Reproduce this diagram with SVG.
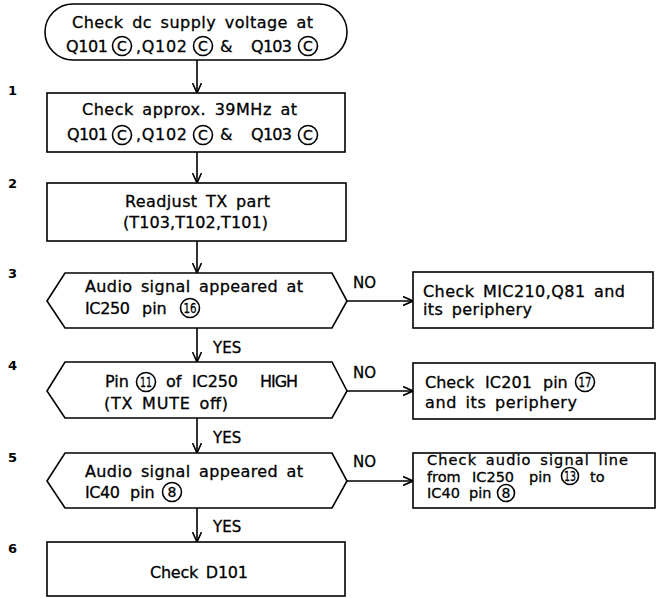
<svg xmlns="http://www.w3.org/2000/svg" width="662" height="598" viewBox="0 0 662 598">
<defs>
<style>
.s{fill:none;stroke:#000;stroke-width:1.6}
.t{font-family:"DejaVu Sans","Liberation Sans",Arial,sans-serif;font-size:16px;fill:#000;stroke:#000;stroke-width:0.3;word-spacing:3px}
.u{font-size:14.5px}
.c{font-family:"DejaVu Sans","Liberation Sans",Arial,sans-serif;font-size:14px;fill:#000;stroke:#000;stroke-width:0.3;text-anchor:middle}
.n{font-family:"DejaVu Sans","Liberation Sans",Arial,sans-serif;font-size:13px;font-weight:bold;fill:#000}
.l{font-family:"DejaVu Sans","Liberation Sans",Arial,sans-serif;font-size:15px;fill:#000;stroke:#000;stroke-width:0.3}
</style>
<marker id="ah" viewBox="0 0 10 10" refX="10" refY="5" markerWidth="10" markerHeight="10" markerUnits="userSpaceOnUse" orient="auto">
<path d="M0,0.5 L10,5 L0,9.5" fill="none" stroke="#000" stroke-width="1.6"/>
</marker>
</defs>
<rect width="662" height="598" fill="#fff"/>

<g id="labels">
<text class="n" x="8" y="95">1</text>
<text class="n" x="8" y="188">2</text>
<text class="n" x="8" y="278">3</text>
<text class="n" x="8" y="370">4</text>
<text class="n" x="8" y="462">5</text>
<text class="n" x="8" y="553">6</text>
</g>

<g id="start">
<rect class="s" x="45" y="4" width="302" height="56" rx="28" ry="28"/>
<text class="t" x="72" y="28" textLength="241" lengthAdjust="spacing">Check dc supply voltage at</text>
<text class="t" x="66" y="52" textLength="42" lengthAdjust="spacing">Q101</text>
<circle class="s" cx="122" cy="46" r="9.5"/><text class="c" x="122" y="51">C</text>
<text class="t" x="136" y="52" textLength="51" lengthAdjust="spacing">,Q102</text>
<circle class="s" cx="203" cy="46" r="9.5"/><text class="c" x="203" y="51">C</text>
<text class="t" x="220" y="52">&amp;</text>
<text class="t" x="251" y="52" textLength="41" lengthAdjust="spacing">Q103</text>
<circle class="s" cx="308" cy="46" r="9.5"/><text class="c" x="308" y="51">C</text>
</g>

<g id="step1">
<rect class="s" x="47" y="93" width="298" height="59"/>
<text class="t" x="82" y="115" textLength="215" lengthAdjust="spacing">Check approx. 39MHz at</text>
<text class="t" x="67" y="140" textLength="41" lengthAdjust="spacing">Q101</text>
<circle class="s" cx="122" cy="135" r="9.5"/><text class="c" x="122" y="140">C</text>
<text class="t" x="136" y="140" textLength="51" lengthAdjust="spacing">,Q102</text>
<circle class="s" cx="203" cy="135" r="9.5"/><text class="c" x="203" y="140">C</text>
<text class="t" x="220" y="140">&amp;</text>
<text class="t" x="251" y="140" textLength="41" lengthAdjust="spacing">Q103</text>
<circle class="s" cx="308" cy="135" r="9.5"/><text class="c" x="308" y="140">C</text>
</g>

<g id="step2">
<rect class="s" x="47" y="183" width="299" height="58"/>
<text class="t" x="125" y="207" textLength="145" lengthAdjust="spacing">Readjust TX part</text>
<text class="t" x="123" y="228" textLength="145" lengthAdjust="spacing">(T103,T102,T101)</text>
</g>

<g id="step3">
<path class="s" d="M47,301 L65,273 L332,273 L347,301 L332,328 L65,328 Z"/>
<text class="t" x="85" y="292" textLength="218" lengthAdjust="spacing">Audio signal appeared at</text>
<text class="t" x="85" y="314" textLength="45" lengthAdjust="spacing">IC250</text>
<text class="t" x="142" y="314">pin</text>
<circle class="s" cx="190" cy="308" r="9.5"/><text class="c" x="190" y="313" textLength="13" lengthAdjust="spacingAndGlyphs">16</text>
</g>

<g id="step4">
<path class="s" d="M47,391 L65,362 L332,362 L347,391 L332,418 L65,418 Z"/>
<text class="t" x="105" y="387">Pin</text>
<circle class="s" cx="146" cy="382" r="9.5"/><text class="c" x="146" y="387" textLength="12" lengthAdjust="spacingAndGlyphs">11</text>
<text class="t" x="166" y="387">of</text>
<text class="t" x="192" y="387" textLength="46" lengthAdjust="spacing">IC250</text>
<text class="t" x="260" y="387" textLength="38" lengthAdjust="spacing">HIGH</text>
<text class="t" x="104" y="409" textLength="124" lengthAdjust="spacing">(TX MUTE off)</text>
</g>

<g id="step5">
<path class="s" d="M47,481 L65,453 L332,453 L347,481 L332,508 L65,508 Z"/>
<text class="t" x="85" y="477" textLength="218" lengthAdjust="spacing">Audio signal appeared at</text>
<text class="t" x="85" y="498" textLength="35" lengthAdjust="spacing">IC40</text>
<text class="t" x="130" y="498">pin</text>
<circle class="s" cx="172" cy="492" r="9.5"/><text class="c" x="172" y="497">8</text>
</g>

<g id="step6">
<rect class="s" x="47" y="542" width="298" height="54"/>
<text class="t" x="150" y="578" textLength="98" lengthAdjust="spacing">Check D101</text>
</g>

<g id="no3">
<rect class="s" x="413" y="272" width="240" height="56"/>
<text class="t" x="423" y="297" textLength="202" lengthAdjust="spacing">Check MIC210,Q81 and</text>
<text class="t" x="423" y="315" textLength="109" lengthAdjust="spacing">its periphery</text>
</g>

<g id="no4">
<rect class="s" x="413" y="363" width="242" height="56"/>
<text class="t" x="425" y="388">Check</text>
<text class="t" x="485" y="388" textLength="47" lengthAdjust="spacing">IC201</text>
<text class="t" x="543" y="388">pin</text>
<circle class="s" cx="585" cy="382" r="9.5"/><text class="c" x="585" y="387" textLength="13" lengthAdjust="spacingAndGlyphs">17</text>
<text class="t" x="425" y="408" textLength="152" lengthAdjust="spacing">and its periphery</text>
</g>

<g id="no5">
<rect class="s" x="413" y="453" width="242" height="55"/>
<text class="t u" x="427" y="465" textLength="201" lengthAdjust="spacing">Check audio signal line</text>
<text class="t u" x="427" y="481.5">from</text>
<text class="t u" x="472" y="481.5">IC250</text>
<text class="t u" x="529" y="481.5">pin</text>
<circle class="s" cx="570" cy="476" r="8.5"/><text class="c" x="570" y="481" textLength="12" lengthAdjust="spacingAndGlyphs">13</text>
<text class="t u" x="590" y="481.5">to</text>
<text class="t u" x="427" y="498">IC40</text>
<text class="t u" x="469" y="498">pin</text>
<circle class="s" cx="506" cy="493" r="8.5"/><text class="c" x="506" y="498">8</text>
</g>

<g id="connectors">
<line class="s" x1="197" y1="60" x2="197" y2="93" marker-end="url(#ah)"/>
<line class="s" x1="197" y1="152" x2="197" y2="183" marker-end="url(#ah)"/>
<line class="s" x1="197" y1="241" x2="197" y2="273" marker-end="url(#ah)"/>
<line class="s" x1="197" y1="328" x2="197" y2="362" marker-end="url(#ah)"/>
<line class="s" x1="197" y1="418" x2="197" y2="453" marker-end="url(#ah)"/>
<line class="s" x1="197" y1="508" x2="197" y2="542" marker-end="url(#ah)"/>
<line class="s" x1="347" y1="301" x2="413" y2="301" marker-end="url(#ah)"/>
<line class="s" x1="347" y1="391" x2="413" y2="391" marker-end="url(#ah)"/>
<line class="s" x1="347" y1="481" x2="413" y2="481" marker-end="url(#ah)"/>
<text class="l" x="213" y="353">YES</text>
<text class="l" x="213" y="443">YES</text>
<text class="l" x="213" y="532">YES</text>
<text class="l" x="353" y="288">NO</text>
<text class="l" x="353" y="378">NO</text>
<text class="l" x="353" y="467">NO</text>
</g>
</svg>
